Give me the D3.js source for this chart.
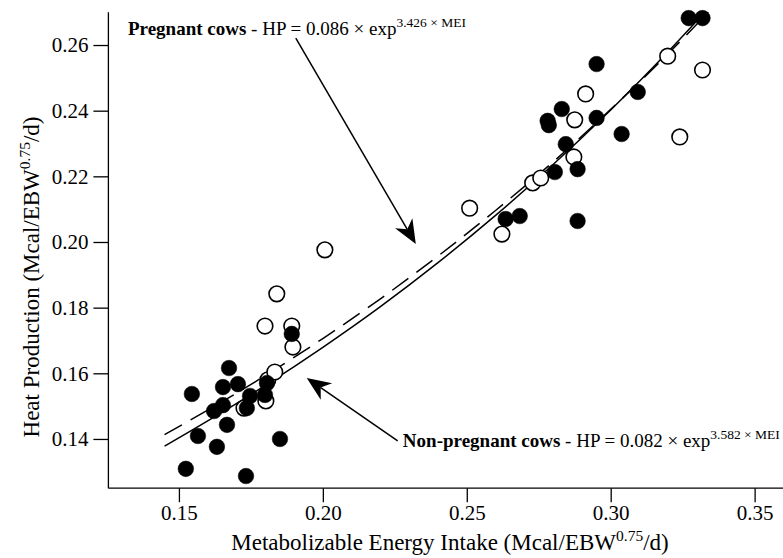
<!DOCTYPE html>
<html>
<head>
<meta charset="utf-8">
<script src="https://cdn.jsdelivr.net/npm/d3@7"></script>
<style>
  html, body { margin: 0; padding: 0; background: #fff; }
  svg { display: block; }
  text { font-family: "Liberation Serif", "Times New Roman", serif; fill: #000; }
</style>
</head>
<body>
<svg id="chart" width="783" height="558"></svg>
<script>
// ---------- data ----------
const openMEI = [0.1726, 0.1802, 0.1809, 0.1833, 0.1799, 0.1840, 0.1892, 0.1896, 0.2007,
                 0.2510, 0.2622, 0.2729, 0.2757, 0.2872, 0.2875, 0.2913, 0.3198, 0.3240, 0.3319];
const openHP  = [0.1494, 0.1516, 0.1580, 0.1604, 0.1744, 0.1842, 0.1744, 0.1680, 0.1976,
                 0.2103, 0.2024, 0.2180, 0.2195, 0.2259, 0.2372, 0.2451, 0.2566, 0.2320, 0.2524];

const filledMEI = [0.1524, 0.1545, 0.1566, 0.1622, 0.1632, 0.1653, 0.1653, 0.1667, 0.1674, 0.1705,
                   0.1733, 0.1736, 0.1747, 0.1799, 0.1806, 0.1851, 0.1892,
                   0.2635, 0.2684, 0.2806, 0.2844, 0.2885, 0.2885, 0.2781, 0.2785, 0.2830,
                   0.2951, 0.2951, 0.3038, 0.3094, 0.3271, 0.3319];
const filledHP  = [0.1309, 0.1537, 0.1409, 0.1485, 0.1376, 0.1558, 0.1503, 0.1443, 0.1616, 0.1567,
                   0.1287, 0.1494, 0.1531, 0.1534, 0.1570, 0.1400, 0.1720,
                   0.2070, 0.2079, 0.2213, 0.2298, 0.2222, 0.2064, 0.2369, 0.2356, 0.2405,
                   0.2378, 0.2542, 0.2329, 0.2457, 0.2682, 0.2682];

// fitted curves (HP = a * exp(b * MEI))
const fitMEI      = [0.145, 0.16, 0.18, 0.20, 0.22, 0.24, 0.26, 0.28, 0.30, 0.32];
const pregnantFit = [0.1413, 0.1488, 0.1593, 0.1706, 0.1827, 0.1957, 0.2096, 0.2244, 0.2404, 0.2574];
const nonPregFit  = [0.1378, 0.1455, 0.1563, 0.1679, 0.1803, 0.1937, 0.2081, 0.2236, 0.2402, 0.2580];
const pregnantEnd = [0.3339, 0.2700];
const nonPregEnd  = [0.3327, 0.2700];

const xMajorTicks = [0.15, 0.20, 0.25, 0.30, 0.35];
const xMinorTicks = [0.13,0.14,0.16,0.17,0.18,0.19,0.21,0.22,0.23,0.24,0.26,0.27,0.28,0.29,0.31,0.32,0.33,0.34];
const yMajorTicks = [0.14, 0.16, 0.18, 0.20, 0.22, 0.24, 0.26];
const yMinorTicks = [0.13, 0.15, 0.17, 0.19, 0.21, 0.23, 0.25, 0.27];

// ---------- scales ----------
const svg = d3.select("#chart");
const x = d3.scaleLinear().domain([0.1255, 0.36]).range([108.4, 783.4]);
const y = d3.scaleLinear().domain([0.125, 0.27]).range([488.2, 12.2]);
const x0 = x.range()[0], y0 = y.range()[0];
const SERIF = '"Liberation Serif", "Times New Roman", serif';

// ---------- axes ----------
const fmt = d3.format(".2f");
const gx = svg.append("g").attr("transform", `translate(0,${y0})`);
gx.call(d3.axisBottom(x).tickValues(xMinorTicks).tickSize(7).tickFormat(""));
gx.call(d3.axisBottom(x).tickValues(xMajorTicks).tickSize(14).tickPadding(3).tickFormat(fmt));
const gy = svg.append("g").attr("transform", `translate(${x0},0)`);
gy.call(d3.axisLeft(y).tickValues(yMinorTicks).tickSize(7).tickFormat(""));
gy.call(d3.axisLeft(y).tickValues(yMajorTicks).tickSize(15).tickPadding(5).tickFormat(fmt));
[gx, gy].forEach(g => g.attr("font-family", SERIF).attr("font-size", 21));
svg.selectAll(".domain").remove();
svg.selectAll(".tick line").attr("stroke", "#000").attr("stroke-width", 1.3);
svg.selectAll(".tick text").attr("font-family", SERIF).style("font-family", SERIF).style("font-size", "21px");
// axis lines
svg.append("line").attr("x1", x0).attr("x2", x.range()[1]).attr("y1", y0).attr("y2", y0)
  .attr("stroke", "#000").attr("stroke-width", 1.3);
svg.append("line").attr("x1", x0).attr("x2", x0).attr("y1", y0).attr("y2", y.range()[1])
  .attr("stroke", "#000").attr("stroke-width", 1.3);

// ---------- axis titles ----------
const xt = svg.append("text").attr("x", 450).attr("y", 550)
  .attr("text-anchor", "middle").style("font-size", "23px");
xt.append("tspan").text("Metabolizable Energy Intake (Mcal/EBW");
xt.append("tspan").attr("dy", -9).style("font-size", "15.5px").text("0.75");
xt.append("tspan").attr("dy", 9).text("/d)");

const yt = svg.append("text").attr("transform", `translate(39,277) rotate(-90)`)
  .attr("text-anchor", "middle").style("font-size", "23px");
yt.append("tspan").text("Heat Production (Mcal/EBW");
yt.append("tspan").attr("dy", -9).style("font-size", "15.5px").text("0.75");
yt.append("tspan").attr("dy", 9).text("/d)");

// ---------- curves ----------
const line = d3.line().x(d => x(d[0])).y(d => y(d[1])).curve(d3.curveMonotoneX);
const pregPts = fitMEI.map((m, i) => [m, pregnantFit[i]]).concat([pregnantEnd]);
const nonPts  = fitMEI.map((m, i) => [m, nonPregFit[i]]).concat([nonPregEnd]);
svg.append("path").attr("d", line(nonPts)).attr("fill", "none").attr("stroke", "#000").attr("stroke-width", 1.5);
svg.append("path").attr("d", line(pregPts)).attr("fill", "none").attr("stroke", "#000")
  .attr("stroke-width", 1.5).attr("stroke-dasharray", "20,10");

// ---------- points ----------
const r = 7.8;
svg.append("g").selectAll("circle").data(openMEI).join("circle")
  .attr("cx", d => x(d)).attr("cy", (d, i) => y(openHP[i])).attr("r", r)
  .attr("fill", "#fff").attr("stroke", "#000").attr("stroke-width", 1.6);
svg.append("g").selectAll("circle").data(filledMEI).join("circle")
  .attr("cx", d => x(d)).attr("cy", (d, i) => y(filledHP[i])).attr("r", r)
  .attr("fill", "#000").attr("stroke", "#000").attr("stroke-width", 0.5);

// ---------- annotations ----------
function arrow(x1, y1, x2, y2) {
  const X1 = x(x1), Y1 = y(y1), X2 = x(x2), Y2 = y(y2);
  const ang = Math.atan2(Y2 - Y1, X2 - X1);
  const L = 24, W = 10, N = 7;
  const ux = Math.cos(ang), uy = Math.sin(ang);
  svg.append("line").attr("x1", X1).attr("y1", Y1)
    .attr("x2", X2 - ux * (L - N)).attr("y2", Y2 - uy * (L - N))
    .attr("stroke", "#000").attr("stroke-width", 1.5);
  const pts = [[0, 0], [-L, -W], [-(L - N), 0], [-L, W]].map(([a, b]) =>
    [X2 + a * ux - b * uy, Y2 + a * uy + b * ux]);
  svg.append("path").attr("d", "M" + pts.map(p => p.join(",")).join("L") + "Z").attr("fill", "#000");
}
arrow(0.1906, 0.2621, 0.2323, 0.1994);
arrow(0.2260, 0.1394, 0.1944, 0.1586);

function eqLabel(px, py, bold, rest, sup) {
  const t = svg.append("text").attr("x", px).attr("y", py).style("font-size", "19px");
  t.append("tspan").style("font-weight", "bold").text(bold);
  t.append("tspan").text(rest);
  t.append("tspan").attr("dy", -8).style("font-size", "13.5px").text(sup);
}
eqLabel(x(0.1323), y(0.2630), "Pregnant cows", " - HP = 0.086 \u00d7 exp", "3.426 \u00d7 MEI");
eqLabel(x(0.2278), y(0.1377), "Non-pregnant cows", " - HP = 0.082 \u00d7 exp", "3.582 \u00d7 MEI");
</script>
</body>
</html>
